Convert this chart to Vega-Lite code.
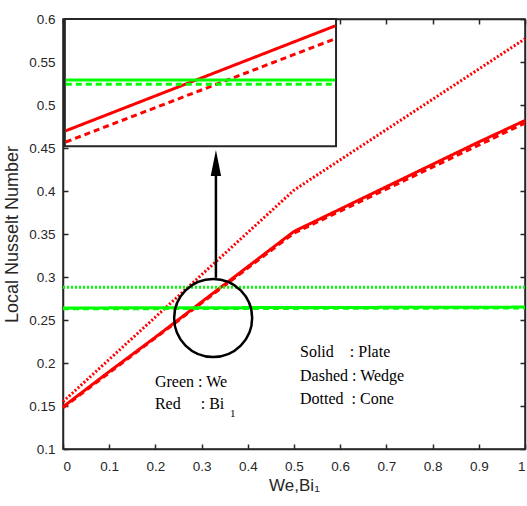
{
  "$schema": "https://vega.github.io/schema/vega-lite/v6.json",
  "width": 462,
  "height": 430,
  "autosize": {"type": "none"},
  "padding": {"left": 63, "top": 19, "right": 2, "bottom": 57},
  "background": "white",
  "config": {
    "view": {"stroke": "#262626", "strokeWidth": 1.5},
    "axis": {
      "labelFont": "Liberation Sans", "labelFontSize": 13.5, "labelColor": "#262626",
      "titleFont": "Liberation Sans", "titleFontSize": 17, "titleFontWeight": "normal", "titleColor": "#262626",
      "tickColor": "#262626", "domainColor": "#262626", "tickSize": -5, "tickWidth": 1.5, "domainWidth": 1.5, "grid": false
    }
  },
  "datasets": {
    "main": [
      {"line": "plate_bi", "color": "red", "style": "solid", "x": 0, "y": 0.149},
      {"line": "plate_bi", "color": "red", "style": "solid", "x": 0.1, "y": 0.19},
      {"line": "plate_bi", "color": "red", "style": "solid", "x": 0.2, "y": 0.23},
      {"line": "plate_bi", "color": "red", "style": "solid", "x": 0.3, "y": 0.271},
      {"line": "plate_bi", "color": "red", "style": "solid", "x": 0.4, "y": 0.312},
      {"line": "plate_bi", "color": "red", "style": "solid", "x": 0.5, "y": 0.353},
      {"line": "plate_bi", "color": "red", "style": "solid", "x": 0.6, "y": 0.379},
      {"line": "plate_bi", "color": "red", "style": "solid", "x": 0.7, "y": 0.405},
      {"line": "plate_bi", "color": "red", "style": "solid", "x": 0.8, "y": 0.431},
      {"line": "plate_bi", "color": "red", "style": "solid", "x": 0.9, "y": 0.457},
      {"line": "plate_bi", "color": "red", "style": "solid", "x": 1, "y": 0.482},
      {"line": "wedge_bi", "color": "red", "style": "dashed", "x": 0, "y": 0.148},
      {"line": "wedge_bi", "color": "red", "style": "dashed", "x": 0.5, "y": 0.351},
      {"line": "wedge_bi", "color": "red", "style": "dashed", "x": 1, "y": 0.479},
      {"line": "cone_bi", "color": "red", "style": "dotted", "x": 0, "y": 0.155},
      {"line": "cone_bi", "color": "red", "style": "dotted", "x": 0.5, "y": 0.401},
      {"line": "cone_bi", "color": "red", "style": "dotted", "x": 1, "y": 0.577},
      {"line": "plate_we", "color": "green", "style": "solid", "x": 0, "y": 0.264},
      {"line": "plate_we", "color": "green", "style": "solid", "x": 1, "y": 0.265},
      {"line": "wedge_we", "color": "green", "style": "dashed", "x": 0, "y": 0.263},
      {"line": "wedge_we", "color": "green", "style": "dashed", "x": 1, "y": 0.264},
      {"line": "cone_we", "color": "green", "style": "dotted", "x": 0, "y": 0.288},
      {"line": "cone_we", "color": "green", "style": "dotted", "x": 1, "y": 0.288}
    ],
    "insetbox": [{"x1": 0.004, "x2": 0.591, "y1": 0.452, "y2": 0.6}],
    "inset": [
      {"line": "plate_bi", "color": "red", "style": "solid", "x": 0.006, "y": 0.470},
      {"line": "plate_bi", "color": "red", "style": "solid", "x": 0.589, "y": 0.592},
      {"line": "wedge_bi", "color": "red", "style": "dashed", "x": 0.006, "y": 0.457},
      {"line": "wedge_bi", "color": "red", "style": "dashed", "x": 0.589, "y": 0.577},
      {"line": "plate_we", "color": "green", "style": "solid", "x": 0.006, "y": 0.529},
      {"line": "plate_we", "color": "green", "style": "solid", "x": 0.589, "y": 0.529},
      {"line": "wedge_we", "color": "green", "style": "dashed", "x": 0.006, "y": 0.524},
      {"line": "wedge_we", "color": "green", "style": "dashed", "x": 0.589, "y": 0.524}
    ],
    "circle": [{"x": 0.325, "y": 0.2523}],
    "arrow": [{"x": 0.331, "y1": 0.299, "y2": 0.425}],
    "head": [{"x": 0.331, "y": 0.4326}],
    "notes": [
      {"x": 0.199, "y": 0.178, "label": "Green : We", "size": 16},
      {"x": 0.199, "y": 0.1523, "label": "Red\u00a0\u00a0\u00a0\u00a0\u00a0: Bi", "size": 16},
      {"x": 0.3615, "y": 0.1405, "label": "1", "size": 11},
      {"x": 0.513, "y": 0.2128, "label": "Solid\u00a0\u00a0\u00a0\u00a0: Plate", "size": 16},
      {"x": 0.513, "y": 0.1849, "label": "Dashed : Wedge", "size": 16},
      {"x": 0.513, "y": 0.1581, "label": "Dotted\u00a0\u00a0: Cone", "size": 16}
    ]
  },
  "layer": [
    {
      "data": {"name": "main"},
      "mark": {"type": "line", "strokeWidth": 3},
      "encoding": {
        "x": {"field": "x", "type": "quantitative", "scale": {"domain": [0, 1], "nice": false},
              "axis": {"orient": "bottom", "values": [0, 0.1, 0.2, 0.3, 0.4, 0.5, 0.6, 0.7, 0.8, 0.9, 1], "format": "~g", "title": "We,Bi₁", "labelPadding": 15, "titlePadding": 5}},
        "y": {"field": "y", "type": "quantitative", "scale": {"domain": [0.1, 0.6], "nice": false, "zero": false},
              "axis": {"orient": "left", "values": [0.1, 0.15, 0.2, 0.25, 0.3, 0.35, 0.4, 0.45, 0.5, 0.55, 0.6], "format": "~g", "title": "Local Nusselt Number", "labelPadding": 13, "titlePadding": 7, "titleFontSize": 18}},
        "color": {"field": "color", "type": "nominal", "scale": {"domain": ["red", "green"], "range": ["#ff0000", "#00ff00"]}, "legend": null},
        "strokeDash": {"field": "style", "type": "nominal", "scale": {"domain": ["solid", "dashed", "dotted"], "range": [[1, 0], [6, 4], [2, 2]]}, "legend": null},
        "detail": {"field": "line"},
        "order": {"field": "x"}
      }
    },
    {
      "data": {"name": "main"},
      "mark": {"type": "point", "opacity": 0},
      "encoding": {
        "x": {"field": "x", "type": "quantitative", "scale": {"domain": [0, 1], "nice": false},
              "axis": {"orient": "top", "values": [0, 0.1, 0.2, 0.3, 0.4, 0.5, 0.6, 0.7, 0.8, 0.9, 1], "labels": false, "title": null}},
        "y": {"field": "y", "type": "quantitative", "scale": {"domain": [0.1, 0.6], "nice": false, "zero": false},
              "axis": {"orient": "right", "values": [0.1, 0.15, 0.2, 0.25, 0.3, 0.35, 0.4, 0.45, 0.5, 0.55, 0.6], "labels": false, "title": null}}
      }
    },
    {
      "data": {"name": "insetbox"},
      "mark": {"type": "rect", "fill": "white", "stroke": "#262626", "strokeWidth": 2},
      "encoding": {
        "x": {"field": "x1", "type": "quantitative", "scale": {"domain": [0, 1], "nice": false}, "axis": null},
        "x2": {"field": "x2"},
        "y": {"field": "y1", "type": "quantitative", "scale": {"domain": [0.1, 0.6], "nice": false, "zero": false}, "axis": null},
        "y2": {"field": "y2"}
      }
    },
    {
      "data": {"name": "inset"},
      "mark": {"type": "line", "strokeWidth": 3},
      "encoding": {
        "x": {"field": "x", "type": "quantitative", "scale": {"domain": [0, 1], "nice": false}, "axis": null},
        "y": {"field": "y", "type": "quantitative", "scale": {"domain": [0.1, 0.6], "nice": false, "zero": false}, "axis": null},
        "color": {"field": "color", "type": "nominal", "scale": {"domain": ["red", "green"], "range": ["#ff0000", "#00ff00"]}, "legend": null},
        "strokeDash": {"field": "style", "type": "nominal", "scale": {"domain": ["solid", "dashed", "dotted"], "range": [[1, 0], [6, 4], [2, 2]]}, "legend": null},
        "detail": {"field": "line"},
        "order": {"field": "x"}
      }
    },
    {
      "data": {"name": "circle"},
      "mark": {"type": "point", "shape": "circle", "filled": false, "size": 6084, "stroke": "black", "strokeWidth": 2.5, "opacity": 1},
      "encoding": {
        "x": {"field": "x", "type": "quantitative", "scale": {"domain": [0, 1], "nice": false}, "axis": null},
        "y": {"field": "y", "type": "quantitative", "scale": {"domain": [0.1, 0.6], "nice": false, "zero": false}, "axis": null}
      }
    },
    {
      "data": {"name": "arrow"},
      "mark": {"type": "rule", "stroke": "black", "strokeWidth": 2.5},
      "encoding": {
        "x": {"field": "x", "type": "quantitative", "scale": {"domain": [0, 1], "nice": false}, "axis": null},
        "y": {"field": "y1", "type": "quantitative", "scale": {"domain": [0.1, 0.6], "nice": false, "zero": false}, "axis": null},
        "y2": {"field": "y2"}
      }
    },
    {
      "data": {"name": "head"},
      "mark": {"type": "point", "shape": "M0,-1L0.4,1L-0.4,1Z", "filled": true, "size": 676, "fill": "black", "stroke": null, "opacity": 1},
      "encoding": {
        "x": {"field": "x", "type": "quantitative", "scale": {"domain": [0, 1], "nice": false}, "axis": null},
        "y": {"field": "y", "type": "quantitative", "scale": {"domain": [0.1, 0.6], "nice": false, "zero": false}, "axis": null}
      }
    },
    {
      "data": {"name": "notes"},
      "mark": {"type": "text", "font": "Liberation Serif", "align": "left", "baseline": "middle", "color": "#000000"},
      "encoding": {
        "x": {"field": "x", "type": "quantitative", "scale": {"domain": [0, 1], "nice": false}, "axis": null},
        "y": {"field": "y", "type": "quantitative", "scale": {"domain": [0.1, 0.6], "nice": false, "zero": false}, "axis": null},
        "text": {"field": "label"},
        "size": {"field": "size", "type": "quantitative", "scale": null}
      }
    }
  ],
  "resolve": {"axis": {"x": "independent", "y": "independent"}}
}
